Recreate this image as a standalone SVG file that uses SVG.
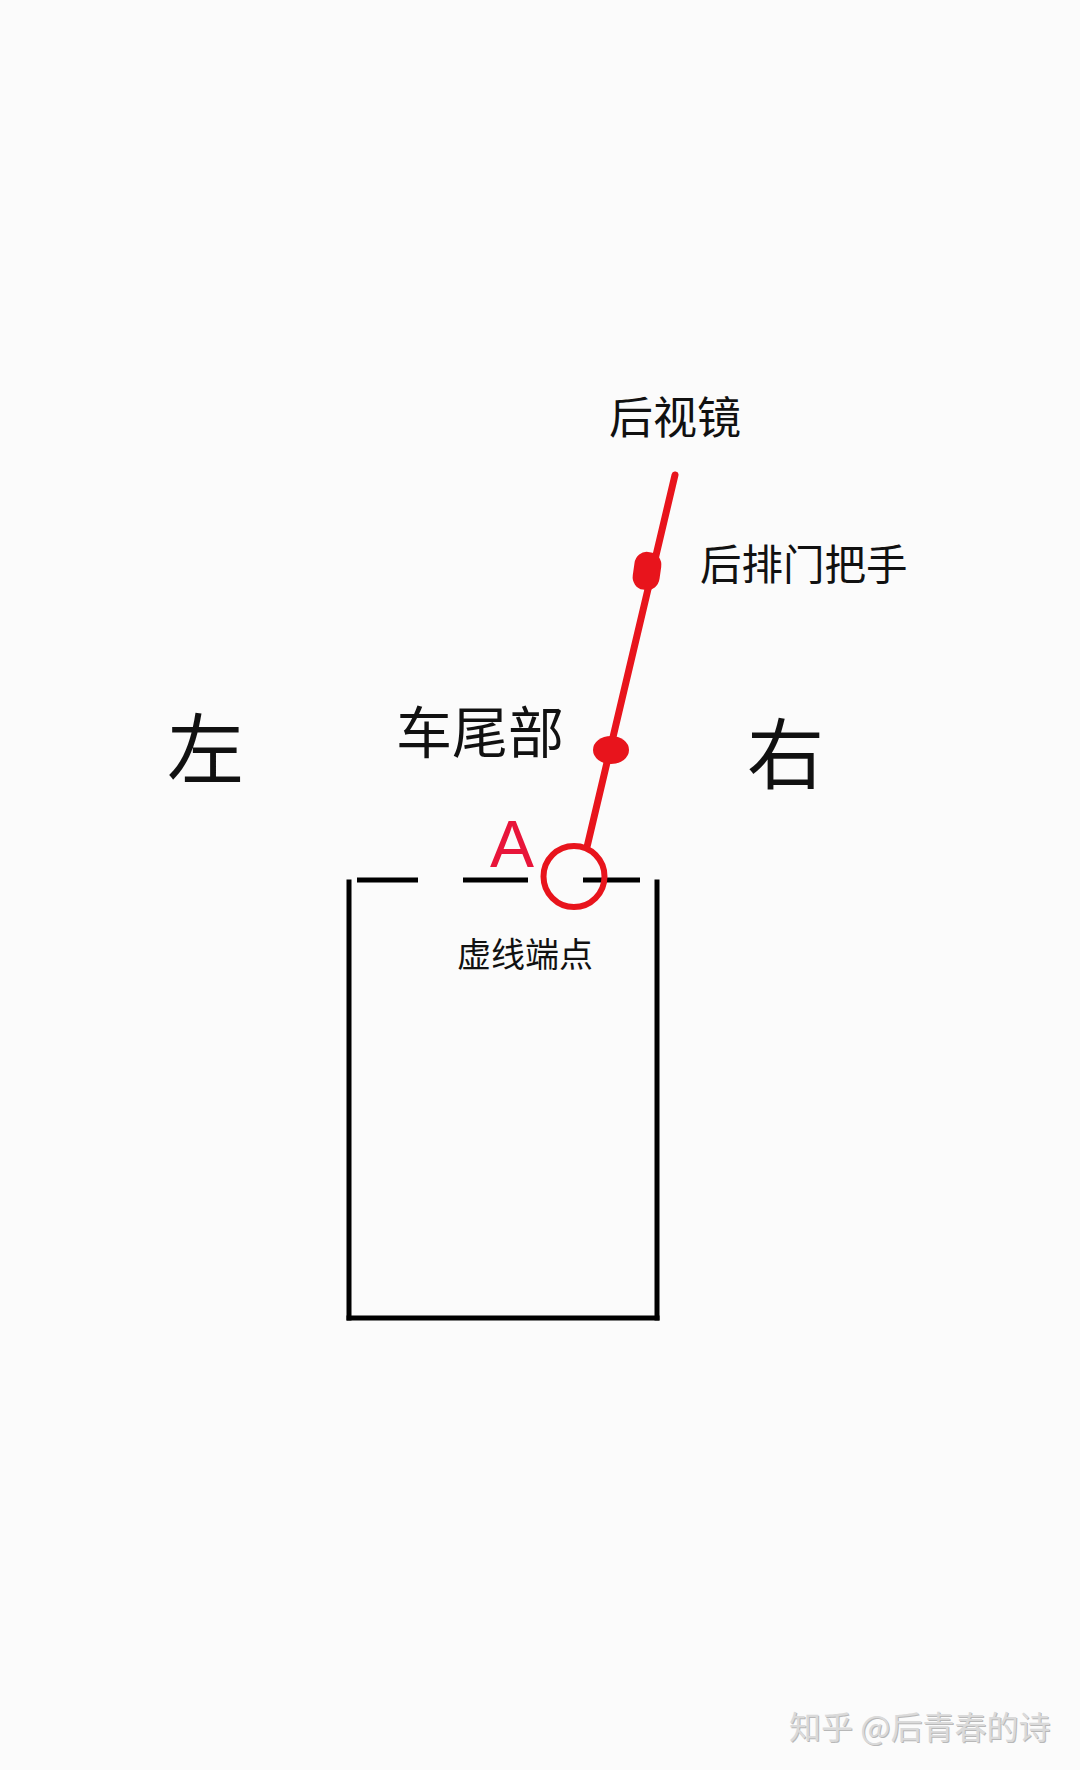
<svg xmlns="http://www.w3.org/2000/svg" width="1080" height="1770" viewBox="0 0 1080 1770">
  <style>
    .cjk { font-family: "Noto Sans CJK SC", "Noto Sans", sans-serif; fill: #111111; }
    .red { stroke: #e8141c; fill: none; stroke-linecap: round; }
    .redfill { fill: #e8141c; }
    .box { stroke: #000000; stroke-width: 5; fill: none; stroke-linecap: square; }
    .wm { font-family: "Noto Sans CJK SC", "Noto Sans", sans-serif; font-size: 32px; }
  </style>
  <rect x="0" y="0" width="1080" height="1770" fill="#fbfbfb"/>

  <g id="labels-side">
    <text id="left-label" class="cjk" x="167" y="778" font-size="77">左</text>
    <text id="right-label" class="cjk" x="747" y="783" font-size="77">右</text>
  </g>

  <g id="box">
    <line class="box" x1="349" y1="882" x2="349" y2="1318"/>
    <line class="box" x1="349" y1="1318" x2="657" y2="1318"/>
    <line class="box" x1="657" y1="882" x2="657" y2="1318"/>
    <line x1="357" y1="880" x2="418" y2="880" stroke="#000" stroke-width="5"/>
    <line x1="463" y1="880" x2="528" y2="880" stroke="#000" stroke-width="5"/>
    <line x1="583" y1="880" x2="640" y2="880" stroke="#000" stroke-width="5"/>
    <text id="dash-end-label" class="cjk" x="457" y="967" font-size="34">虚线端点</text>
  </g>

  <g id="connectors">
    <line class="red" stroke-width="7" x1="675" y1="475" x2="587" y2="847"/>
  </g>

  <g id="node-mirror">
    <text class="cjk" x="609" y="434" font-size="44">后视镜</text>
  </g>

  <g id="node-door-handle">
    <rect class="redfill" x="633.5" y="552" width="27" height="38" rx="12" ry="13" transform="rotate(8 647 571)"/>
    <text class="cjk" x="700" y="580" font-size="41.5">后排门把手</text>
  </g>

  <g id="node-tail">
    <ellipse class="redfill" cx="611" cy="750" rx="18" ry="14"/>
    <text class="cjk" x="396" y="753" font-size="56">车尾部</text>
  </g>

  <g id="node-A">
    <circle cx="574" cy="876.5" r="30.5" fill="none" stroke="#e8141c" stroke-width="6"/>
    <text x="512" y="867" font-family="Liberation Sans, Arial, sans-serif" font-size="66" fill="#e8153a" text-anchor="middle">A</text>
  </g>

  <g id="watermark">
    <text class="wm" x="790" y="1740" fill="#b8b8b8">知乎 @后青春的诗</text>
    <text class="wm" x="789" y="1739" fill="#dadada">知乎 @后青春的诗</text>
  </g>
</svg>
